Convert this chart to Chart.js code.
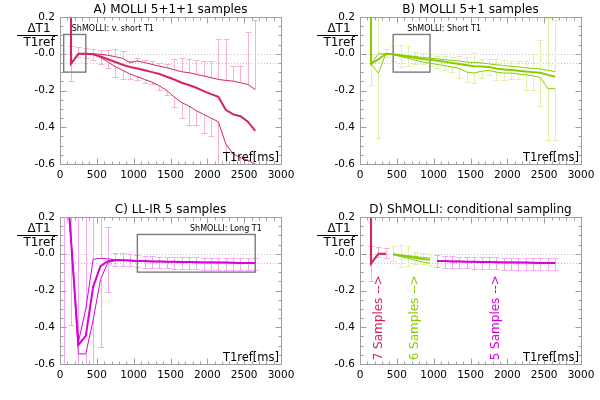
<!DOCTYPE html>
<html>
<head>
<meta charset="utf-8">
<script src="https://cdn.jsdelivr.net/npm/chart.js@4.4.0/dist/chart.umd.min.js"></script>
<style>
  html, body { margin: 0; padding: 0; background: #fff; }
  #wrap { position: relative; width: 600px; height: 400px; }
  .panel { position: absolute; width: 300px; height: 200px; }
</style>
</head>
<body>
<div id="wrap">
  <div class="panel" style="left:0;top:0"><canvas id="cA" width="300" height="200"></canvas></div>
  <div class="panel" style="left:300px;top:0"><canvas id="cB" width="300" height="200"></canvas></div>
  <div class="panel" style="left:0;top:200px"><canvas id="cC" width="300" height="200"></canvas></div>
  <div class="panel" style="left:300px;top:200px"><canvas id="cD" width="300" height="200"></canvas></div>
</div>
<script>
// --- Axis ticks ---
const xTickVals   = [0, 500, 1000, 1500, 2000, 2500, 3000];
const xTickLabels = ['0', '500', '1000', '1500', '2000', '2500', '3000'];
const yTickVals   = [-0.6, -0.4, -0.2, 0, 0.2];
const yTickLabels = ['-0.6', '-0.4', '-0.2', '-0.0', '0.2'];
const refLines    = [0, -0.05];   // dotted guide lines

// --- A) MOLLI 5+1+1 (T1ref in ms, first sample repeated for the jump at 150) ---
const tA     = [150,150,250,350,450,550,650,750,850,950,1050,1150,1250,1350,1450,1550,1650,1750,1850,1950,2050,2150,2250,2350,2450,2550,2650];
const meanA  = [0.6,-0.054,0.0,0.0,-0.003,-0.015,-0.03,-0.045,-0.06,-0.072,-0.08,-0.09,-0.10,-0.11,-0.125,-0.14,-0.158,-0.17,-0.185,-0.203,-0.22,-0.235,-0.305,-0.33,-0.34,-0.37,-0.42];
const upperA = [0.6,-0.054,0.0,0.0,0.0,-0.003,-0.008,-0.016,-0.025,-0.048,-0.04,-0.048,-0.058,-0.068,-0.076,-0.087,-0.098,-0.103,-0.112,-0.121,-0.13,-0.14,-0.145,-0.149,-0.158,-0.167,-0.195];
const lowerA = [0.6,-0.054,0.0,0.0,-0.003,-0.02,-0.045,-0.07,-0.09,-0.11,-0.125,-0.14,-0.155,-0.175,-0.2,-0.235,-0.265,-0.285,-0.31,-0.33,-0.35,-0.37,-0.49,-0.545,-0.565,-0.58,-0.6];
const topA   = [null,0.04,0.035,0.03,0.028,0.02,0.02,0.028,0.015,-0.04,-0.025,-0.034,-0.039,-0.05,-0.058,-0.03,-0.025,-0.03,-0.034,-0.04,-0.042,0.08,0.08,-0.065,-0.065,0.118,0.185];
const botA   = [null,-0.15,-0.02,-0.025,-0.035,-0.055,-0.075,-0.125,-0.14,-0.135,-0.145,-0.157,-0.167,-0.195,-0.222,-0.29,-0.35,-0.39,-0.39,-0.43,-0.45,-0.62,-0.62,-0.8,-0.8,-0.8,-0.8];

// --- B) MOLLI 5+1 ---
const tB     = [150,150,250,350,450,550,650,750,850,950,1050,1150,1250,1350,1450,1550,1650,1750,1850,1950,2050,2150,2250,2350,2450,2550,2650];
const meanB  = [0.6,-0.055,-0.03,0.0,-0.003,-0.01,-0.016,-0.022,-0.028,-0.033,-0.038,-0.044,-0.05,-0.056,-0.062,-0.068,-0.07,-0.072,-0.08,-0.086,-0.088,-0.092,-0.097,-0.1,-0.103,-0.115,-0.125];
const upperB = [0.6,-0.055,0.0,0.0,-0.002,-0.006,-0.01,-0.015,-0.02,-0.024,-0.028,-0.032,-0.036,-0.04,-0.045,-0.048,-0.05,-0.055,-0.06,-0.064,-0.068,-0.072,-0.076,-0.08,-0.083,-0.09,-0.098];
const lowerB = [0.6,-0.055,-0.105,0.0,-0.005,-0.015,-0.025,-0.035,-0.045,-0.052,-0.058,-0.065,-0.072,-0.08,-0.1,-0.105,-0.095,-0.09,-0.1,-0.105,-0.105,-0.11,-0.115,-0.12,-0.13,-0.19,-0.19];
const topB   = [null,0.6,0.6,0.028,0.04,0.048,0.04,0.01,0.006,0.0,-0.012,-0.012,-0.02,-0.012,-0.017,0.006,-0.03,-0.03,-0.03,-0.036,-0.04,-0.04,-0.04,0.0,0.076,0.195,0.185];
const botB   = [null,-0.17,-0.46,-0.02,-0.04,-0.07,-0.065,-0.058,-0.058,-0.065,-0.075,-0.09,-0.1,-0.13,-0.155,-0.16,-0.134,-0.118,-0.145,-0.145,-0.135,-0.135,-0.195,-0.195,-0.286,-0.47,-0.47];

// --- C) LL-IR 5 ---
const tC     = [50,150,250,350,450,550,650,750,850,950,1050,1150,1250,1350,1450,1550,1650,1750,1850,1950,2050,2150,2250,2350,2450,2550,2650];
const meanC  = [0.64,0.075,-0.496,-0.447,-0.18,-0.067,-0.04,-0.035,-0.035,-0.037,-0.04,-0.04,-0.042,-0.042,-0.043,-0.044,-0.045,-0.045,-0.046,-0.047,-0.047,-0.048,-0.048,-0.049,-0.05,-0.05,-0.05];
const upperC = [0.64,0.075,-0.48,-0.30,-0.03,-0.025,-0.028,-0.033,-0.034,-0.036,-0.039,-0.04,-0.041,-0.041,-0.042,-0.043,-0.044,-0.044,-0.045,-0.046,-0.046,-0.047,-0.047,-0.048,-0.049,-0.049,-0.049];
const lowerC = [0.64,0.075,-0.545,-0.545,-0.36,-0.14,-0.048,-0.036,-0.036,-0.038,-0.041,-0.041,-0.043,-0.043,-0.044,-0.045,-0.046,-0.046,-0.047,-0.048,-0.048,-0.049,-0.049,-0.05,-0.051,-0.051,-0.051];
const topC   = [0.8,0.8,0.8,0.8,0.8,0.3,0.143,0.005,0.005,0.0,-0.005,-0.01,-0.012,-0.015,-0.015,-0.017,-0.018,-0.02,-0.02,-0.022,-0.022,-0.022,-0.023,-0.024,-0.025,-0.025,-0.025];
const botC   = [-0.8,-0.386,-0.8,-0.8,-0.8,-0.505,-0.21,-0.065,-0.065,-0.068,-0.07,-0.075,-0.078,-0.08,-0.08,-0.082,-0.083,-0.085,-0.085,-0.087,-0.087,-0.088,-0.088,-0.089,-0.09,-0.09,-0.09];

// --- Colours ---
const CRIMSON = 'rgb(212,36,100)', PINK   = 'rgb(246,178,206)';
const GREEN   = 'rgb(136,204,0)',  LGREEN = 'rgb(222,242,170)';
const MAGENTA = 'rgb(218,0,218)',  LMAG   = 'rgb(242,168,242)';
const FONT = '"DejaVu Sans", sans-serif';

const grpA = { t: tA, mean: meanA, upper: upperA, lower: lowerA, top: topA, bot: botA, color: CRIMSON, light: PINK };
const grpB = { t: tB, mean: meanB, upper: upperB, lower: lowerB, top: topB, bot: botB, color: GREEN, light: LGREEN };
const grpC = { t: tC, mean: meanC, upper: upperC, lower: lowerC, top: topC, bot: botC, color: MAGENTA, light: LMAG };

// pick the part of a group that ShMOLLI uses in D
function pick(g, from, to) {
  const idx = g.t.map((v, i) => i).filter(i => g.t[i] >= from && g.t[i] <= to);
  const sel = arr => idx.map(i => arr[i]);
  return { t: sel(g.t), mean: sel(g.mean), upper: sel(g.upper), lower: sel(g.lower),
           top: sel(g.top), bot: sel(g.bot), color: g.color, light: g.light };
}

const panels = [
  { id: 'cA', title: 'A) MOLLI 5+1+1 samples', groups: [grpA],
    box: { x0: 50, x1: 350, y0: -0.1, y1: 0.105, text: 'ShMOLLI: v. short T1', tx: 160, align: 'left' } },
  { id: 'cB', title: 'B) MOLLI 5+1 samples', groups: [grpB],
    box: { x0: 450, x1: 950, y0: -0.1, y1: 0.105, text: 'ShMOLLI: Short T1', tx: 640, align: 'left' } },
  { id: 'cC', title: 'C) LL-IR 5 samples', groups: [grpC],
    box: { x0: 1050, x1: 2650, y0: -0.1, y1: 0.105, text: 'ShMOLLI: Long T1', tx: 1765, align: 'left' } },
  { id: 'cD', title: 'D) ShMOLLI: conditional sampling',
    groups: [pick(grpA, 0, 350), pick(grpB, 450, 950), pick(grpC, 1050, 3000)],
    notes: [
      { text: '7 Samples -->', x: 250,  y: -0.58, color: CRIMSON },
      { text: '6 Samples -->', x: 750,  y: -0.58, color: GREEN },
      { text: '5 Samples -->', x: 1850, y: -0.58, color: MAGENTA }
    ] }
];

function crisp(v) { return Math.round(v) + 0.5; }

function panelPlugin(cfg) {
  return {
    id: 'panel_' + cfg.id,
    beforeDatasetsDraw(chart) {
      const { ctx, chartArea: a, scales: { x, y } } = chart;
      ctx.save();
      ctx.beginPath();
      ctx.rect(a.left, a.top, a.right - a.left, a.bottom - a.top);
      ctx.clip();

      // dotted guides
      ctx.strokeStyle = '#c4c4c4';
      ctx.lineWidth = 1;
      ctx.setLineDash([1, 2]);
      refLines.forEach(v => {
        const py = crisp(y.getPixelForValue(v));
        ctx.beginPath(); ctx.moveTo(a.left, py); ctx.lineTo(a.right, py); ctx.stroke();
      });
      ctx.setLineDash([]);

      // error bars: upwards from upper curve, downwards from lower curve
      cfg.groups.forEach(g => {
        ctx.strokeStyle = g.light;
        ctx.lineWidth = 1;
        g.t.forEach((tv, i) => {
          const px = crisp(x.getPixelForValue(tv));
          [[g.upper[i], g.top[i]], [g.lower[i], g.bot[i]]].forEach(([from, to]) => {
            if (to == null) return;
            const y0 = y.getPixelForValue(from), y1 = crisp(y.getPixelForValue(to));
            ctx.beginPath();
            ctx.moveTo(px, y0); ctx.lineTo(px, y1);
            ctx.moveTo(px - 3, y1); ctx.lineTo(px + 3, y1);
            ctx.stroke();
          });
        });
      });

      // ShMOLLI range box
      if (cfg.box) {
        const b = cfg.box;
        const bx0 = x.getPixelForValue(b.x0), bx1 = x.getPixelForValue(b.x1);
        const by0 = y.getPixelForValue(b.y1), by1 = y.getPixelForValue(b.y0);
        ctx.strokeStyle = '#7a7a7a';
        ctx.lineWidth = 1.4;
        ctx.strokeRect(bx0, by0, bx1 - bx0, by1 - by0);
      }
      ctx.restore();
    },
    afterDraw(chart) {
      const { ctx, chartArea: a, scales: { x, y } } = chart;
      ctx.save();

      // frame and inward ticks
      ctx.strokeStyle = '#a0a0a0';
      ctx.lineWidth = 1;
      const L = crisp(a.left), R = crisp(a.right), T = crisp(a.top), B = crisp(a.bottom);
      ctx.strokeRect(L, T, R - L, B - T);
      ctx.beginPath();
      for (let i = 0; i <= 30; i++) {
        const px = crisp(x.getPixelForValue(i * 100));
        const len = i % 5 === 0 ? 6 : 3;
        ctx.moveTo(px, B); ctx.lineTo(px, B - len);
        ctx.moveTo(px, T); ctx.lineTo(px, T + len);
      }
      for (let i = 0; i <= 16; i++) {
        const py = crisp(y.getPixelForValue(-0.6 + i * 0.05));
        const len = i % 4 === 0 ? 6 : 3;
        ctx.moveTo(L, py); ctx.lineTo(L + len, py);
        ctx.moveTo(R, py); ctx.lineTo(R - len, py);
      }
      ctx.stroke();

      ctx.fillStyle = '#000';
      // title
      ctx.font = '12px ' + FONT;
      ctx.textAlign = 'center';
      ctx.textBaseline = 'alphabetic';
      ctx.fillText(cfg.title, (a.left + a.right) / 2, 13);

      // y label as a fraction
      ctx.font = '12px ' + FONT;
      ctx.fillText('\u0394T1', 39, 32);
      ctx.fillText('T1ref', 39, 46);
      ctx.beginPath();
      ctx.moveTo(17, 35.5); ctx.lineTo(58, 35.5);
      ctx.strokeStyle = '#000';
      ctx.stroke();

      // x label inside the plot
      ctx.textAlign = 'right';
      ctx.font = '11.5px ' + FONT;
      ctx.fillText('T1ref[ms]', a.right - 2, a.bottom - 3);

      // box caption
      if (cfg.box) {
        const b = cfg.box;
        ctx.font = '8px ' + FONT;
        ctx.textAlign = b.align;
        ctx.fillText(b.text, x.getPixelForValue(b.tx), y.getPixelForValue(b.y1) - 3);
      }

      // rotated notes (panel D)
      (cfg.notes || []).forEach(n => {
        ctx.save();
        ctx.translate(x.getPixelForValue(n.x), y.getPixelForValue(n.y));
        ctx.rotate(-Math.PI / 2);
        ctx.font = '12px ' + FONT;
        ctx.fillStyle = n.color;
        ctx.textAlign = 'left';
        ctx.textBaseline = 'middle';
        ctx.fillText(n.text, 0, 0);
        ctx.restore();
      });
      ctx.restore();
    }
  };
}

function lineSet(g, key, width) {
  return {
    data: g.t.map((tv, i) => ({ x: tv, y: g[key][i] })),
    borderColor: g.color,
    borderWidth: width,
    pointRadius: 0,
    tension: 0,
    fill: false
  };
}

panels.forEach(cfg => {
  const datasets = [];
  cfg.groups.forEach(g => {
    datasets.push(lineSet(g, 'upper', 1), lineSet(g, 'lower', 1), lineSet(g, 'mean', 2));
  });

  new Chart(document.getElementById(cfg.id).getContext('2d'), {
    type: 'line',
    data: { datasets },
    options: {
      responsive: false,
      animation: false,
      layout: { padding: { top: 17, right: 19, left: 0, bottom: 0 } },
      plugins: { legend: { display: false }, tooltip: { enabled: false } },
      scales: {
        x: {
          type: 'linear', min: 0, max: 3000,
          afterBuildTicks: s => { s.ticks = xTickVals.map(v => ({ value: v })); },
          afterFit: s => { s.height = 36; },
          grid: { display: false, drawTicks: false, tickLength: 0 },
          border: { display: false },
          ticks: { color: '#000', font: { family: FONT, size: 10.5 }, padding: 5,
                   maxRotation: 0, autoSkip: false, callback: (v, i) => xTickLabels[i] }
        },
        y: {
          type: 'linear', min: -0.6, max: 0.2,
          afterBuildTicks: s => { s.ticks = yTickVals.map(v => ({ value: v })); },
          afterFit: s => { s.width = 60; },
          grid: { display: false, drawTicks: false, tickLength: 0 },
          border: { display: false },
          ticks: { color: '#000', font: { family: FONT, size: 10.5 }, padding: 5,
                   autoSkip: false, callback: (v, i) => yTickLabels[i] }
        }
      }
    },
    plugins: [panelPlugin(cfg)]
  });
});
</script>
</body>
</html>
